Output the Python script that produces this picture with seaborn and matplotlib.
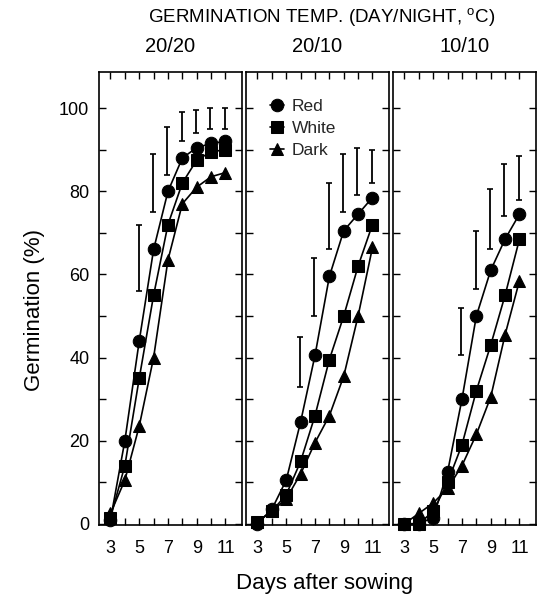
import numpy as np
import pandas as pd
import matplotlib
matplotlib.use("Agg")
import matplotlib.pyplot as plt
from matplotlib.ticker import MultipleLocator, FixedLocator
import seaborn as sns

# germination (%), days 3..11
days = [3, 4, 5, 6, 7, 8, 9, 10, 11]
temps = ["20/20", "20/10", "10/10"]

red = {
    "20/20": [1, 20, 44, 66, 80, 88, 90.5, 91.5, 92],
    "20/10": [0, 3.5, 10.5, 24.5, 40.5, 59.5, 70.5, 74.5, 78.5],
    "10/10": [0, 0, 1.5, 12.5, 30, 50, 61, 68.5, 74.5],
}
white = {
    "20/20": [1.5, 14, 35, 55, 72, 82, 87.5, 89.5, 90],
    "20/10": [0.5, 3, 7, 15, 26, 39.5, 50, 62, 72],
    "10/10": [0, 0, 3, 10, 19, 32, 43, 55, 68.5],
}
dark = {
    "20/20": [2.5, 10.5, 23.5, 40, 63.5, 77, 81, 83.5, 84.5],
    "20/10": [0.5, 3, 6, 12, 19.5, 26, 35.5, 50, 66.5],
    "10/10": [0, 2.5, 5, 8.5, 14, 21.5, 30.5, 45.5, 58.5],
}

# floating error bars (low, high) per day
bar_days = {"20/20": [5, 6, 7, 8, 9, 10, 11],
            "20/10": [6, 7, 8, 9, 10, 11],
            "10/10": [7, 8, 9, 10, 11]}
bar_lo = {"20/20": [56, 75, 84, 92, 94, 95, 95],
          "20/10": [33, 50, 66, 75, 79, 82],
          "10/10": [40.5, 56.5, 66, 74, 78]}
bar_hi = {"20/20": [72, 89, 95.5, 99, 99.5, 100, 100],
          "20/10": [45, 64, 82, 89, 90.5, 90],
          "10/10": [52, 70.5, 80.5, 86.5, 88.5]}

rows = []
for t in temps:
    for light, src in [("Red", red), ("White", white), ("Dark", dark)]:
        for d, v in zip(days, src[t]):
            rows.append({"temp": t, "light": light, "day": d, "germ": v})
df = pd.DataFrame(rows)

sns.set_theme(style="ticks")
plt.rcParams["font.family"] = ["Liberation Sans", "DejaVu Sans"]

W, H = 537, 604
fig = plt.figure(figsize=(W / 100, H / 100), dpi=100)

markers = {"Red": "o", "White": "s", "Dark": "^"}
msize = {"Red": 9, "White": 8, "Dark": 9}
lefts = [99, 246, 393]

for i, t in enumerate(temps):
    ax = fig.add_axes([lefts[i] / W, 1 - 525 / H, 143 / W, 453 / H])
    sub = df[df.temp == t]
    for light in ["Red", "White", "Dark"]:
        s = sub[sub.light == light]
        sns.lineplot(x=s.day, y=s.germ, ax=ax, color="black", lw=1.2,
                     marker=markers[light], markersize=msize[light],
                     markeredgecolor="black", markerfacecolor="black",
                     label=light, clip_on=False, zorder=3)
    lo = np.array(bar_lo[t])
    hi = np.array(bar_hi[t])
    ax.errorbar(np.array(bar_days[t]) - 0.05, (lo + hi) / 2, yerr=(hi - lo) / 2,
                fmt="none", ecolor="black", elinewidth=1.3, capsize=2, capthick=1.2)

    ax.set_xlim(2.2, 12.15)
    ax.set_ylim(-0.3, 108.7)
    ax.xaxis.set_major_locator(FixedLocator([3, 5, 7, 9, 11]))
    ax.xaxis.set_minor_locator(FixedLocator([4, 6, 8, 10]))
    ax.yaxis.set_major_locator(MultipleLocator(20))
    ax.yaxis.set_minor_locator(MultipleLocator(10))
    ax.tick_params(which="both", direction="in", top=True, right=True,
                   width=1, color="black", labelsize=13, labelcolor="black")
    ax.tick_params(which="major", length=5)
    ax.tick_params(axis="x", which="major", pad=11)
    ax.tick_params(axis="y", which="major", pad=7)
    ax.tick_params(which="minor", length=5)
    ax.set_xlabel("")
    ax.set_ylabel("")
    if i > 0:
        ax.set_yticklabels([])
    for sp in ax.spines.values():
        sp.set_color("black")
        sp.set_linewidth(1.2)

    if i == 1:
        ax.legend(loc="upper left", frameon=False, fontsize=12.5,
                  handlelength=0.8, handletextpad=0.45, labelspacing=0.38,
                  borderaxespad=0.0, bbox_to_anchor=(0.12, 0.955))
    else:
        leg = ax.get_legend()
        if leg is not None:
            leg.remove()

    fig.text((lefts[i] + 71.5) / W, 1 - 46 / H, t, ha="center", va="center",
             fontsize=14.5, color="black")

fig.text(322 / W, 1 - 18 / H, "GERMINATION TEMP. (DAY/NIGHT, $^{\\mathregular{o}}$C)",
         ha="center", va="center", fontsize=13.5, color="black")
fig.text(35 / W, 1 - 310 / H, "Germination (%)", rotation=90, ha="center",
         va="center", fontsize=16, color="black")
fig.text(325 / W, 1 - 583 / H, "Days after sowing", ha="center", va="center",
         fontsize=16, color="black")

fig.savefig("out.png", dpi=100)
